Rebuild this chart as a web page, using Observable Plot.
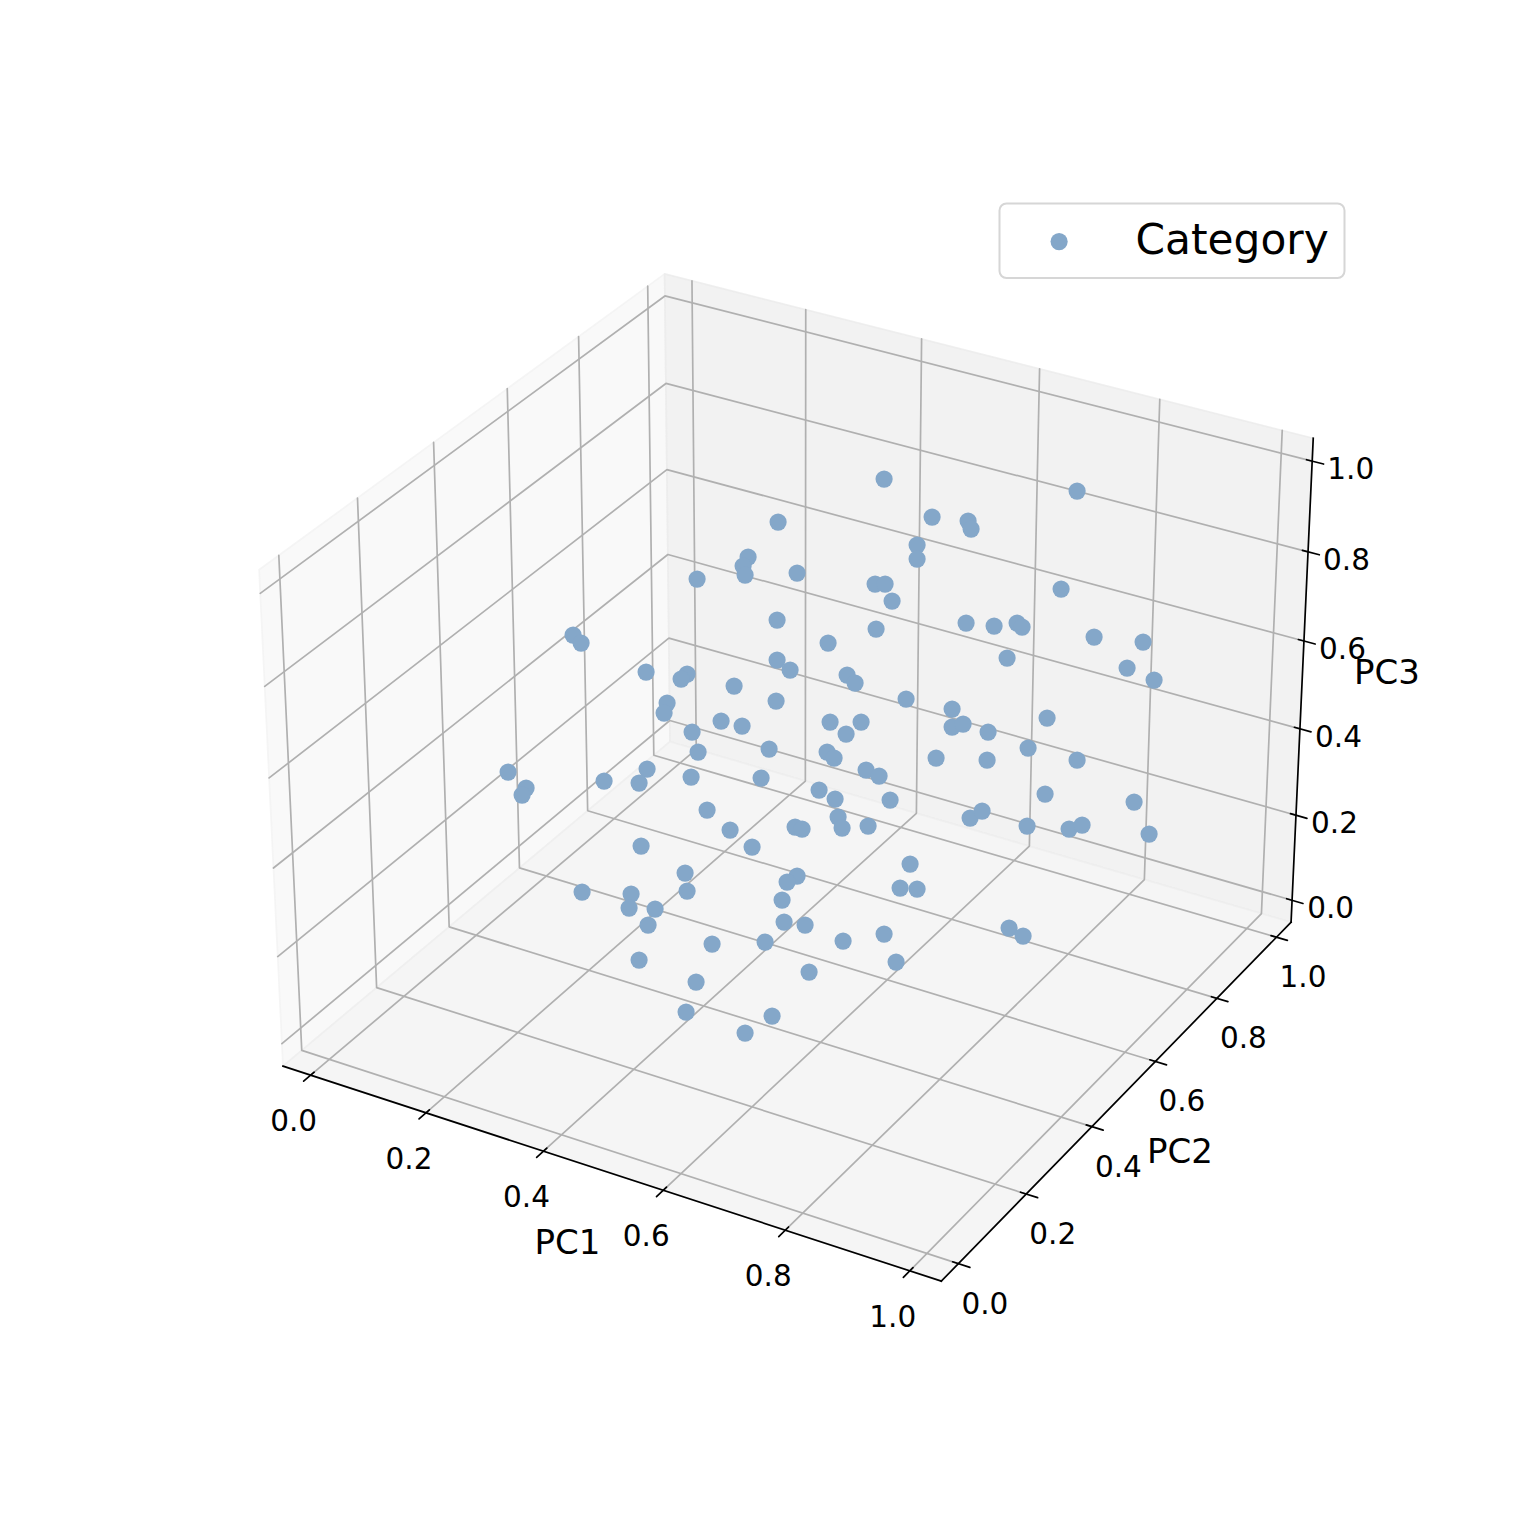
<!DOCTYPE html>
<html><head><meta charset="utf-8">
<style>html,body{margin:0;padding:0;background:#fff}svg{display:block}</style>
<script src="https://cdn.jsdelivr.net/npm/d3@7"></script>
<script src="https://cdn.jsdelivr.net/npm/@observablehq/plot@0.6"></script>
</head><body><script>
const tickValues = [0, 0.2, 0.4, 0.6, 0.8, 1.0];
const tickLabels = ["0.0", "0.2", "0.4", "0.6", "0.8", "1.0"];
const axisNames = ["PC1", "PC2", "PC3"];
const legendLabel = "Category";
// Points, on the plane of the projected view.
const planeX = [884,1077,932,968,971,778,917,917,748,743,745,797,697,875,885,892,1061,573,581,777,876,966,994,1017,1022,1094,1143,828,1007,1127,1154,777,790,646,687,681,847,855,734,906,776,667,664,952,721,742,830,861,952,963,1047,692,846,988,769,698,827,834,936,987,1028,1077,647,604,639,691,761,866,879,508,526,522,819,835,890,1045,1134,707,970,982,730,795,802,838,842,868,1027,1069,1082,1149,641,752,910,685,797,787,582,631,687,900,917,782,629,655,648,784,805,1009,1023,884,712,765,843,639,896,809,696,686,772,745];
const planeY = [479,491,517,521,529,522,545,559,557,566,575,573,579,584,584,601,589,635,643,620,629,623,626,623,627,637,642,643,658,668,680,660,670,672,674,679,675,683,686,699,701,703,713,709,721,726,722,722,727,724,718,732,734,732,749,752,752,758,758,760,748,760,769,781,783,777,778,770,776,772,788,795,790,799,800,794,802,810,818,811,830,827,829,817,828,826,826,829,825,834,846,847,864,873,876,882,892,894,891,888,889,900,908,909,925,922,925,928,936,934,944,942,941,960,962,972,982,1012,1016,1033];

// matplotlib-style perspective camera
const rad = d => d * Math.PI / 180, el = rad(30), az = rad(-60), dist = 10;
const norm = v => { const n = Math.hypot(...v); return v.map(a => a / n); };
const cross = (a, b) => [a[1]*b[2]-a[2]*b[1], a[2]*b[0]-a[0]*b[2], a[0]*b[1]-a[1]*b[0]];
const dot3 = (a, b) => a[0]*b[0]+a[1]*b[1]+a[2]*b[2];
const k = 1.8294640721620434 / Math.hypot(4, 4, 3);
const box = [4*k, 4*k, 3*k];
const R = box.map(b => b/2);
const E = [R[0]+dist*Math.cos(el)*Math.cos(az), R[1]+dist*Math.cos(el)*Math.sin(az), R[2]+dist*Math.sin(el)];
const w = norm(E.map((e,i)=>e-R[i])), u = norm(cross([0,0,1], w)), v = cross(w, u);
const lim = [[-0.0266,1.0281],[-0.0271,1.0280],[-0.0300,1.0280]];
const axW = 1172, cx = 780, cyTop = 182.6;
// Panes keep the box measured in the picture; the tick scale inside it is lim.
const paneLim = [-0.023,1.028];
function proj(p) {
  const q = p.map((a,i)=>{
    const f=(a-(lim[i][0]-(lim[i][1]-lim[i][0])/48))/((lim[i][1]-lim[i][0])*25/24);
    const pf=(paneLim[1]-paneLim[0])*25/24, p0=paneLim[0]-(paneLim[1]-paneLim[0])/48;
    return ((f*pf+p0)-paneLim[0])/(paneLim[1]-paneLim[0])*box[i]-E[i];
  });
  const Z = -dot3(w,q), X = dot3(u,q)/Z, Y = dot3(v,q)/Z;
  return [cx-axW/2+(X+0.095)/0.185*axW, cyTop+axW-(Y+0.095)/0.185*axW];
}
const m = lim.map(([a,b])=>(b-a)/48);
const lo = lim.map((l,i)=>l[0]-m[i]), hi = lim.map((l,i)=>l[1]+m[i]);
const d = lim.map(([a,b])=>(b-a)*(1+1/24)/12);

function seg(id, pts){ return pts.map(p=>{const [x,y]=proj(p);return {id,x,y};}); }
const panes = [
  {c:"rgb(249,249,249)",e:"rgba(242,242,242,0.8)",p:[[lo[0],lo[1],lo[2]],[lo[0],hi[1],lo[2]],[lo[0],hi[1],hi[2]],[lo[0],lo[1],hi[2]],[lo[0],lo[1],lo[2]]]},
  {c:"rgb(242,242,242)",e:"rgba(235,235,235,0.8)",p:[[lo[0],hi[1],lo[2]],[hi[0],hi[1],lo[2]],[hi[0],hi[1],hi[2]],[lo[0],hi[1],hi[2]],[lo[0],hi[1],lo[2]]]},
  {c:"rgb(245,245,245)",e:"rgba(238,238,238,0.8)",p:[[lo[0],lo[1],lo[2]],[hi[0],lo[1],lo[2]],[hi[0],hi[1],lo[2]],[lo[0],hi[1],lo[2]],[lo[0],lo[1],lo[2]]]}
];
const offX=[-17,46.5], offY=[26.5,40.5], offZ=[38.5,8.5];
let grid=[], ticks=[], labels=[];
tickValues.forEach((t,i)=>{
  grid.push(...seg("x"+i,[[t,lo[1],lo[2]],[t,hi[1],lo[2]],[t,hi[1],hi[2]]]));
  grid.push(...seg("y"+i,[[lo[0],t,hi[2]],[lo[0],t,lo[2]],[hi[0],t,lo[2]]]));
  grid.push(...seg("z"+i,[[lo[0],lo[1],t],[lo[0],hi[1],t],[hi[0],hi[1],t]]));
  ticks.push(...seg("tx"+i,[[t,lo[1]+0.1*d[1],lo[2]],[t,lo[1]-0.2*d[1],lo[2]]]));
  ticks.push(...seg("ty"+i,[[hi[0]-0.1*d[0],t,lo[2]],[hi[0]+0.2*d[0],t,lo[2]]]));
  ticks.push(...seg("tz"+i,[[hi[0]-0.1*d[0],hi[1],t],[hi[0]+0.2*d[0],hi[1],t]]));
  const a=proj([t,lo[1],lo[2]]), b=proj([hi[0],t,lo[2]]), c=proj([hi[0],hi[1],t]);
  labels.push({x:a[0]+offX[0],y:a[1]+offX[1],t:tickLabels[i]},{x:b[0]+offY[0],y:b[1]+offY[1],t:tickLabels[i]},{x:c[0]+offZ[0],y:c[1]+offZ[1],t:tickLabels[i]});
});
const spines = [
  ...seg("sx",[[lo[0],lo[1],lo[2]],[hi[0],lo[1],lo[2]]]),
  ...seg("sy",[[hi[0],lo[1],lo[2]],[hi[0],hi[1],lo[2]]]),
  ...seg("sz",[[hi[0],hi[1],lo[2]],[hi[0],hi[1],hi[2]]])
];
const nameAt = [proj([0.5,lo[1],lo[2]]), proj([hi[0],0.5,lo[2]]), proj([hi[0],hi[1],0.5])];
const nameOff = [[-35.5,72],[56,58],[85,-12]];
const names = axisNames.map((t,i)=>({t,x:nameAt[i][0]+nameOff[i][0],y:nameAt[i][1]+nameOff[i][1]}));
const points = planeX.map((x,i)=>({x,y:planeY[i]}));
const ff = "DejaVu Sans";

const chart = Plot.plot({
  width:1522, height:1522, margin:0,
  x:{domain:[0,1522],range:[0,1522],axis:null},
  y:{domain:[0,1522],range:[0,1522],axis:null},
  style:{background:"#fff"},
  marks:[
    ...panes.map(P=>Plot.line(seg("p",P.p),{x:"x",y:"y",fill:P.c,stroke:P.e,strokeWidth:1.7,curve:"linear"})),
    Plot.line(grid,{x:"x",y:"y",z:"id",stroke:"#b0b0b0",strokeWidth:1.7,strokeLinejoin:"miter"}),
    Plot.line(spines,{x:"x",y:"y",z:"id",stroke:"#000",strokeWidth:1.7,strokeLinecap:"square"}),
    Plot.line(ticks,{x:"x",y:"y",z:"id",stroke:"#000",strokeWidth:1.7}),
    Plot.text(labels,{x:"x",y:"y",text:"t",fontFamily:ff,fontSize:29.5,fill:"#000",lineAnchor:"middle"}),
    Plot.text(names,{x:"x",y:"y",text:"t",fontFamily:ff,fontSize:34,fill:"#000",lineAnchor:"middle"}),
    Plot.dot(points,{x:"x",y:"y",r:8.6,dx:-0.4,dy:-0.4,fill:"#84a7c9",stroke:"none"}),
    Plot.rect([{x1:999.5,x2:1344.5,y1:203.5,y2:278}],{x1:"x1",x2:"x2",y1:"y1",y2:"y2",fill:"#fff",fillOpacity:0.8,stroke:"#d6d6d6",strokeWidth:2,rx:7,inset:0}),
    Plot.dot([{x:1059,y:241.5}],{x:"x",y:"y",r:8.6,dx:-0.4,dy:-0.4,fill:"#84a7c9",stroke:"none"}),
    Plot.text([{x:1135,y:240,t:legendLabel}],{x:"x",y:"y",text:"t",fontFamily:ff,fontSize:42.3,fill:"#000",textAnchor:"start",lineAnchor:"middle"})
  ]
});
document.body.appendChild(chart);
</script></body></html>
